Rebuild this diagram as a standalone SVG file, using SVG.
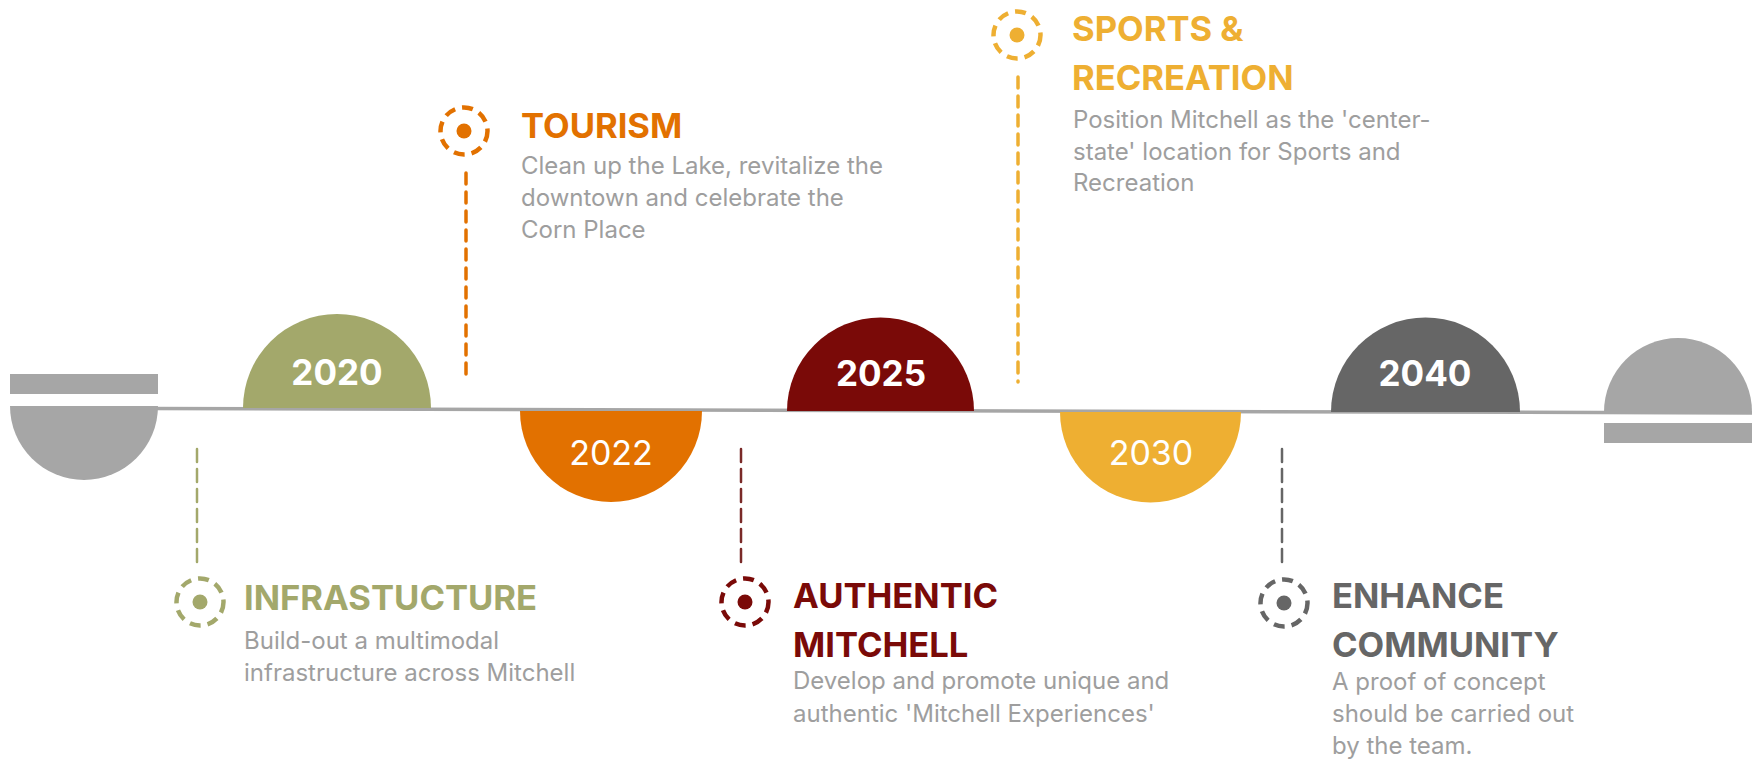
<svg xmlns="http://www.w3.org/2000/svg" width="1759" height="760" viewBox="0 0 1759 760">
<style>
.yb{font-family:Inter,"Liberation Sans",sans-serif;font-weight:700;font-size:35px;fill:#fff;text-anchor:middle}
.yr{font-family:Inter,"Liberation Sans",sans-serif;font-weight:400;font-size:34px;fill:#fff;text-anchor:middle}
.title{font-family:Inter,"Liberation Sans",sans-serif;font-weight:700;font-size:34.6px}
.body{font-family:Inter,"Liberation Sans",sans-serif;font-weight:400;font-size:24px;fill:#9E9E9E}
.ring{fill:none;stroke-width:4.5;stroke-dasharray:11 7}
.conA{fill:none;stroke-width:3.5;stroke-dasharray:11 8;stroke-linecap:round}
.conB{fill:none;stroke-width:2.5;stroke-dasharray:13 7;stroke-linecap:round}
</style>
<rect width="1759" height="760" fill="#fff"/>
<g id="timeline">
<line x1="150" y1="408.5" x2="1752" y2="413" stroke="#A6A6A6" stroke-width="3.5"/>
</g>
<g id="start-cap">
<rect x="10" y="374" width="148" height="20" fill="#A6A6A6"/>
<path d="M10 406 H158 A74 74 0 0 1 10 406 Z" fill="#A6A6A6"/>
</g>
<g id="end-cap">
<path d="M1604 412 A74 74 0 0 1 1752 412 Z" fill="#A6A6A6"/>
<rect x="1604" y="423" width="148" height="20" fill="#A6A6A6"/>
</g>
<g id="y2020">
<path d="M243 408 A94 94 0 0 1 431 408 Z" fill="#A3A86B"/>
<text class="yb" x="337" y="385">2020</text>
</g>
<g id="y2022">
<path d="M520 411 H702 A91 91 0 0 1 520 411 Z" fill="#E27100"/>
<text class="yr" x="611" y="465">2022</text>
</g>
<g id="y2025">
<path d="M787 411 A93.5 93.5 0 0 1 974 411 Z" fill="#7A0A08"/>
<text class="yb" x="881" y="386">2025</text>
</g>
<g id="y2030">
<path d="M1060 412 H1241 A90.5 90.5 0 0 1 1060 412 Z" fill="#EEAF32"/>
<text class="yr" x="1151" y="465">2030</text>
</g>
<g id="y2040">
<path d="M1331 412 A94.5 94.5 0 0 1 1520 412 Z" fill="#666666"/>
<text class="yb" x="1425" y="386">2040</text>
</g>
<g id="connectors">
<line class="conA" x1="466" y1="173" x2="466" y2="382" stroke="#E27100"/>
<line class="conA" x1="1018" y1="77" x2="1018" y2="382" stroke="#EEAF32"/>
<line class="conB" x1="197" y1="449" x2="197" y2="562" stroke="#A3A86B"/>
<line class="conB" x1="741" y1="449" x2="741" y2="562" stroke="#7A2A28"/>
<line class="conB" x1="1282" y1="449" x2="1282" y2="562" stroke="#666666"/>
</g>
<g id="tourism">
<circle class="ring" cx="464" cy="131" r="23.5" stroke="#E27100"/>
<circle cx="464" cy="131" r="7.5" fill="#E27100"/>
<text class="title" x="521" y="138" fill="#E27100">TOURISM</text>
<text class="body" x="521" y="174">Clean up the Lake, revitalize the</text>
<text class="body" x="521" y="206">downtown and celebrate the</text>
<text class="body" x="521" y="238">Corn Place</text>
</g>
<g id="sports">
<circle class="ring" cx="1017" cy="35" r="23.5" stroke="#EEAF32"/>
<circle cx="1017" cy="35" r="7.5" fill="#EEAF32"/>
<text class="title" x="1072" y="41" fill="#EEAF32">SPORTS &amp;</text>
<text class="title" x="1072" y="90" fill="#EEAF32">RECREATION</text>
<text class="body" x="1073" y="128">Position Mitchell as the 'center-</text>
<text class="body" x="1073" y="160">state' location for Sports and</text>
<text class="body" x="1073" y="191">Recreation</text>
</g>
<g id="infrastructure">
<circle class="ring" cx="200" cy="602" r="23.5" stroke="#A3A86B"/>
<circle cx="200" cy="602" r="7.5" fill="#A3A86B"/>
<text class="title" x="244" y="610" fill="#A3A86B">INFRASTUCTURE</text>
<text class="body" x="244" y="649">Build-out a multimodal</text>
<text class="body" x="244" y="681">infrastructure across Mitchell</text>
</g>
<g id="authentic">
<circle class="ring" cx="745" cy="602" r="23.5" stroke="#7A0A08"/>
<circle cx="745" cy="602" r="7.5" fill="#7A0A08"/>
<text class="title" x="793" y="608" fill="#7A0A08">AUTHENTIC</text>
<text class="title" x="793" y="657" fill="#7A0A08">MITCHELL</text>
<text class="body" x="793" y="689">Develop and promote unique and</text>
<text class="body" x="793" y="722">authentic 'Mitchell Experiences'</text>
</g>
<g id="enhance">
<circle class="ring" cx="1284" cy="603" r="23.5" stroke="#666666"/>
<circle cx="1284" cy="603" r="7.5" fill="#666666"/>
<text class="title" x="1332" y="608" fill="#666666">ENHANCE</text>
<text class="title" x="1332" y="657" fill="#666666">COMMUNITY</text>
<text class="body" x="1332" y="690">A proof of concept</text>
<text class="body" x="1332" y="722">should be carried out</text>
<text class="body" x="1332" y="754">by the team.</text>
</g>
</svg>
